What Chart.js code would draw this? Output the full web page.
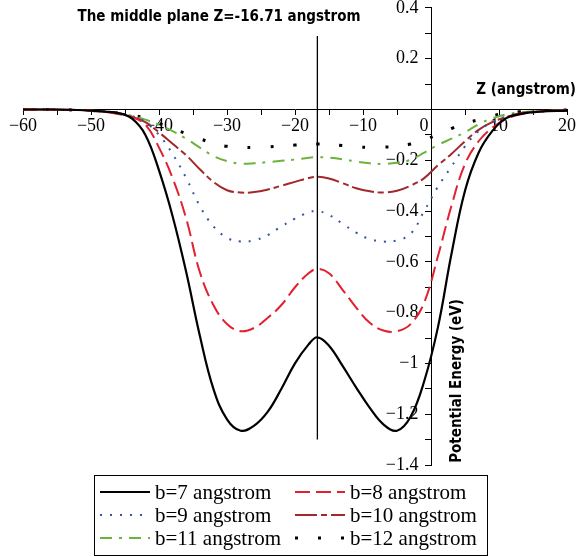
<!DOCTYPE html>
<html>
<head>
<meta charset="utf-8">
<script src="https://cdn.jsdelivr.net/npm/chart.js@4.4.0/dist/chart.umd.min.js"></script>
<style>
  body { margin: 0; background: #fff; }
  #wrap { width: 577px; height: 556px; }
</style>
</head>
<body>
<div id="wrap"><canvas id="chart" width="577" height="556"></canvas></div>
<script>
// Z positions (angstrom)
const zValues = [-60, -56, -52, -50, -48, -46, -44, -42, -40, -38, -36, -34, -32, -30, -28, -26, -24, -22, -20, -18,
  -16.71, -15, -13, -11, -9, -7, -5, -3, -1, 1, 3, 5, 7, 9, 11, 13, 16, 20];

// potential energy (eV) for each impact parameter b
const b7 = [0, 0, -0.002, -0.004, -0.008, -0.014, -0.035, -0.10, -0.24, -0.42, -0.64, -0.89, -1.10, -1.22, -1.265, -1.245,
  -1.19, -1.10, -1.00, -0.925, -0.897, -0.93, -1.01, -1.095, -1.175, -1.24, -1.265, -1.21, -1.07, -0.86, -0.57, -0.32,
  -0.17, -0.085, -0.035, -0.018, -0.008, -0.004];
const b8 = [0, 0, -0.002, -0.005, -0.01, -0.018, -0.03, -0.06, -0.15, -0.27, -0.43, -0.64, -0.77, -0.845, -0.873, -0.86,
  -0.82, -0.77, -0.70, -0.645, -0.628, -0.645, -0.71, -0.78, -0.84, -0.87, -0.873, -0.845, -0.76, -0.58, -0.38, -0.215,
  -0.125, -0.072, -0.038, -0.02, -0.008, -0.004];
const b9 = [0, 0, -0.002, -0.004, -0.008, -0.014, -0.025, -0.05, -0.10, -0.175, -0.27, -0.38, -0.46, -0.505, -0.52, -0.515,
  -0.495, -0.46, -0.43, -0.405, -0.40, -0.415, -0.45, -0.485, -0.51, -0.52, -0.515, -0.49, -0.40, -0.305, -0.225, -0.145,
  -0.085, -0.05, -0.028, -0.015, -0.007, -0.003];
const b10 = [0, 0, -0.002, -0.004, -0.008, -0.014, -0.028, -0.05, -0.09, -0.135, -0.18, -0.235, -0.285, -0.318, -0.327, -0.325,
  -0.315, -0.30, -0.285, -0.27, -0.265, -0.272, -0.29, -0.31, -0.322, -0.327, -0.32, -0.30, -0.27, -0.22, -0.175, -0.125,
  -0.08, -0.05, -0.03, -0.016, -0.007, -0.003];
const b11 = [0, 0, -0.002, -0.004, -0.008, -0.014, -0.025, -0.04, -0.06, -0.085, -0.115, -0.15, -0.183, -0.203, -0.213, -0.212,
  -0.207, -0.202, -0.197, -0.19, -0.188, -0.19, -0.196, -0.205, -0.212, -0.214, -0.21, -0.198, -0.17, -0.14, -0.115, -0.09,
  -0.058, -0.035, -0.02, -0.012, -0.006, -0.003];
const b12 = [0, 0, -0.002, -0.004, -0.008, -0.014, -0.022, -0.035, -0.055, -0.075, -0.095, -0.115, -0.133, -0.145, -0.149, -0.149,
  -0.147, -0.143, -0.14, -0.137, -0.136, -0.137, -0.142, -0.147, -0.149, -0.148, -0.145, -0.136, -0.12, -0.098, -0.075, -0.055,
  -0.04, -0.025, -0.015, -0.009, -0.005, -0.002];

const seriesLabels = ['b=7 angstrom', 'b=8 angstrom', 'b=9 angstrom', 'b=10 angstrom', 'b=11 angstrom', 'b=12 angstrom'];
const seriesValues = [b7, b8, b9, b10, b11, b12];

// middle plane marker
const midPlane = -16.71;
const midLineTop = 0.29;
const midLineBottom = -1.3;

const xTickLabels = [-60, -50, -40, -30, -20, -10, 10, 20];
const yTickLabels = [0.4, 0.2, -0.2, -0.4, -0.6, -0.8, -1, -1.2, -1.4];

const colors = ['#000000', '#e3202e', '#34559e', '#a1282b', '#6cb33e', '#000000'];
const dashes = [[], [15, 6], [2, 8], [22, 4, 6, 4], [12, 7, 3, 7], [3, 20]];
const widths = [2.2, 2, 2, 2, 2, 3];

const minus = v => (v < 0 ? '\u2212' : '') + String(Math.abs(v));
const hasLabel = (list, v) => list.some(t => Math.abs(t - v) < 1e-6);

const datasets = seriesValues.map((vals, i) => ({
  label: seriesLabels[i],
  data: zValues.map((z, j) => ({ x: z, y: vals[j] })),
  borderColor: colors[i],
  borderDash: dashes[i],
  borderWidth: widths[i],
  pointRadius: 0,
  tension: 0.4,
  fill: false
}));
datasets.push({
  label: 'mid',
  data: [{ x: midPlane, y: midLineTop }, { x: midPlane, y: midLineBottom }],
  borderColor: '#000',
  borderWidth: 1.3,
  pointRadius: 0,
  skipLegend: true
});

const overlay = {
  id: 'overlay',
  afterDraw(chart) {
    const { ctx } = chart;
    ctx.save();
    ctx.fillStyle = '#000';
    ctx.textBaseline = 'middle';

    ctx.font = 'bold 15px "DejaVu Sans Condensed"';
    ctx.textAlign = 'center';
    ctx.fillText('The middle plane Z=-16.71 angstrom', 219, 17);
    ctx.textAlign = 'right';
    ctx.fillText('Z (angstrom)', 576, 90);

    ctx.save();
    ctx.translate(457, 381);
    ctx.rotate(-Math.PI / 2);
    ctx.textAlign = 'center';
    ctx.fillText('Potential Energy (eV)', 0, 0);
    ctx.restore();

    ctx.font = '18px "Liberation Serif"';
    ctx.textAlign = 'center';
    ctx.fillText('0', 424, 126);

    // legend
    const rowsY = [492, 515, 538];
    const colX = [100, 295];
    ctx.font = '21px "Liberation Serif"';
    ctx.textAlign = 'left';
    chart.data.datasets.forEach((ds, i) => {
      if (ds.skipLegend) return;
      const x = colX[i % 2];
      const y = rowsY[Math.floor(i / 2)];
      ctx.strokeStyle = ds.borderColor;
      ctx.lineWidth = ds.borderWidth;
      ctx.setLineDash(ds.borderDash || []);
      ctx.beginPath();
      ctx.moveTo(x, y);
      ctx.lineTo(x + 50, y);
      ctx.stroke();
      ctx.setLineDash([]);
      ctx.fillText(ds.label, x + 55, y + 1);
    });
    ctx.strokeStyle = '#000';
    ctx.lineWidth = 1;
    ctx.strokeRect(94.5, 475.5, 393, 80);
    ctx.restore();
  }
};

new Chart(document.getElementById('chart'), {
  type: 'line',
  data: { datasets },
  options: {
    responsive: false,
    devicePixelRatio: 1,
    animation: false,
    layout: { padding: { left: 23, right: 10, top: 5, bottom: 91 } },
    plugins: { legend: { display: false }, tooltip: { enabled: false } },
    scales: {
      x: {
        type: 'linear',
        min: -60,
        max: 20,
        position: { y: 0 },
        border: { display: true, color: '#000', width: 1 },
        grid: { drawOnChartArea: false, drawTicks: true, tickLength: 5, color: '#000' },
        ticks: {
          stepSize: 5,
          autoSkip: false,
          maxRotation: 0,
          color: '#000',
          padding: 1,
          font: { family: 'Liberation Serif', size: 18 },
          callback: v => hasLabel(xTickLabels, v) ? minus(v) : ''
        }
      },
      y: {
        type: 'linear',
        min: -1.4,
        max: 0.4,
        position: { x: 0 },
        border: { display: true, color: '#000', width: 1 },
        grid: { drawOnChartArea: false, drawTicks: true, tickLength: 6, color: '#000' },
        ticks: {
          stepSize: 0.1,
          autoSkip: false,
          color: '#000',
          font: { family: 'Liberation Serif', size: 18, lineHeight: 0.55 },
          // labels sit left of the axis: trailing spaces keep them off the tick marks
          callback: v => hasLabel(yTickLabels, v) ? minus(Math.round(v * 10) / 10) + '\u2002\u2009' : ''
        }
      }
    }
  },
  plugins: [overlay]
});
</script>
</body>
</html>
